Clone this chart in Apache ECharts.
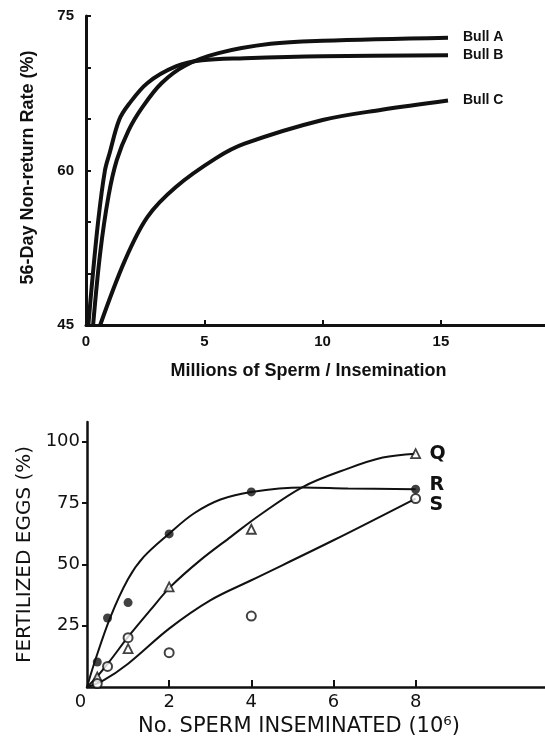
<!DOCTYPE html>
<html>
<head>
<meta charset="utf-8">
<script src="https://cdn.jsdelivr.net/npm/echarts@6/dist/echarts.min.js"></script>
<style>
  html,body{margin:0;padding:0;background:#fff;}
  #main{width:545px;height:740px;}
</style>
</head>
<body>
<div id="main"></div>
<script>
// top panel - 56 day non-return rate
const bullA = [[0.3,45],[0.6,52],[0.95,57.5],[1.3,61],[1.8,63.9],[2.4,66.2],[3.2,68.5],[4.2,70.2],[5.6,71.4],[7.8,72.3],[10,72.6],[15.3,72.9]];
const bullB = [[0.1,45],[0.24,48.7],[0.52,55.2],[0.8,60],[1.0,61.7],[1.4,64.9],[1.8,66.4],[2.6,68.5],[3.8,70.1],[4.9,70.7],[6.7,70.9],[10,71.1],[15.3,71.2]];
const bullC = [[0.6,45],[1.65,51.3],[2.6,55.5],[3.8,58.4],[5.5,61.2],[6.7,62.6],[10,64.9],[12.5,65.9],[15.3,66.8]];
const bullNames = ['Bull A','Bull B','Bull C'];
const topXLabels = [0,5,10,15];
const topXTicks = [5,10,15];
const topYLabels = [45,60,75];
const topYTicks = [50,55,60,65,70,75];

// bottom panel - fertilized eggs, fitted curves + observed points
const curveQ = [[0,0],[0.24,4.1],[0.57,10.9],[1.0,20.4],[1.54,31.3],[2.03,40.8],[2.76,51.7],[3.5,61.2],[4.2,70],[5.25,81.5],[6.35,89],[7.2,93.5],[8,95.1]];
const curveR = [[0,0],[0.2,10.9],[0.57,28.5],[1.0,44],[1.38,53],[2.0,62.5],[2.6,70.7],[3.25,76.4],[4.0,79.5],[5.25,81.3],[6.35,80.9],[8,80.6]];
const curveS = [[0,0],[0.4,2.7],[1.0,9.5],[2.0,23.8],[3.0,35.3],[4.0,43.5],[6.0,59.8],[8,76.8]];
const pointsQ = [[0.25,4.1],[1,15.6],[2,40.8],[4,64.3],[8,95.1]];
const pointsR = [[0.25,10.2],[0.5,28.1],[1,34.4],[2,62.4],[4,79.5],[8,80.6]];
const pointsS = [[0.25,1.4],[0.5,8.4],[1,20.1],[2,14],[4,28.9],[8,76.8]];
const groupNames = ['Q','R','S'];
const bottomXLabels = [0,2,4,6,8];
const bottomXTicks = [2,4,6,8];
const bottomYLabels = [25,50,75,100];

const ink = '#111';
const topFont = {fontFamily:'Liberation Sans', fontWeight:'bold', color:ink};
const botFont = {fontFamily:'DejaVu Sans', color:ink};

function bullLine(data, name){
  return {
    type:'line', xAxisIndex:0, yAxisIndex:0, data:data, smooth:0.35,
    showSymbol:false, silent:true, z:3,
    lineStyle:{color:ink, width:4},
    endLabel:Object.assign({show:true, formatter:name, distance:15, fontSize:14}, topFont)
  };
}
function eggCurve(data, name, offset){
  return {
    type:'line', xAxisIndex:1, yAxisIndex:1, data:data, smooth:0.35,
    showSymbol:false, silent:true, z:3,
    lineStyle:{color:ink, width:2},
    endLabel:{show:true, formatter:name, distance:14, offset:offset, fontSize:19, fontWeight:'bold', fontFamily:'DejaVu Sans', color:ink}
  };
}

let myChart = echarts.init(document.getElementById('main'));
myChart.setOption({
  backgroundColor:'#fff',
  animation:false,
  grid:[
    {left:86, top:16, width:459, height:309},
    {left:87, top:422, width:458, height:265}
  ],
  xAxis:[
    {
      gridIndex:0, type:'value', min:0, max:19.4,
      axisLine:{lineStyle:{color:ink, width:3}},
      axisTick:{inside:true, length:5, customValues:topXTicks, lineStyle:{color:ink, width:2}},
      axisLabel:Object.assign({customValues:topXLabels, margin:9, fontSize:15}, topFont),
      splitLine:{show:false},
      name:'Millions of Sperm / Insemination', nameLocation:'middle', nameGap:37,
      nameTextStyle:Object.assign({fontSize:18, padding:[0,14,0,0]}, topFont)
    },
    {
      gridIndex:1, type:'value', min:0, max:11.15,
      axisLine:{lineStyle:{color:ink, width:2.5}},
      axisTick:{inside:true, length:7, customValues:bottomXTicks, lineStyle:{color:ink, width:2}},
      axisLabel:Object.assign({
        customValues:bottomXLabels, margin:6, fontSize:18,
        formatter:function(v){ return v === 0 ? '{z|0}' : String(v); },
        rich:{z:{fontSize:18, fontFamily:'DejaVu Sans', color:ink, padding:[0,13,0,0]}}
      }, botFont),
      splitLine:{show:false},
      name:'No. SPERM INSEMINATED (10⁶)', nameLocation:'middle', nameGap:29,
      nameTextStyle:Object.assign({fontSize:21, padding:[0,34,0,0]}, botFont)
    }
  ],
  yAxis:[
    {
      gridIndex:0, type:'value', min:45, max:75,
      axisLine:{show:true, lineStyle:{color:ink, width:3}},
      axisTick:{show:true, inside:true, length:5, customValues:topYTicks, lineStyle:{color:ink, width:2}},
      axisLabel:Object.assign({customValues:topYLabels, margin:12, fontSize:15}, topFont),
      splitLine:{show:false},
      name:'56-Day Non-return Rate (%)', nameLocation:'middle', nameGap:49,
      nameTextStyle:Object.assign({fontSize:18, padding:[0,0,0,6]}, topFont)
    },
    {
      gridIndex:1, type:'value', min:0, max:108,
      axisLine:{show:true, lineStyle:{color:ink, width:2.5}},
      axisTick:{show:true, length:5, customValues:bottomYLabels, lineStyle:{color:ink, width:2}},
      axisLabel:Object.assign({customValues:bottomYLabels, margin:7, fontSize:18}, botFont),
      splitLine:{show:false},
      name:'FERTILIZED EGGS (%)', nameLocation:'middle', nameGap:48,
      nameTextStyle:Object.assign({fontSize:20}, botFont)
    }
  ],
  series:[
    bullLine(bullA, bullNames[0]),
    bullLine(bullB, bullNames[1]),
    bullLine(bullC, bullNames[2]),
    eggCurve(curveQ, groupNames[0], [0,0]),
    eggCurve(curveR, groupNames[1], [0,-4]),
    eggCurve(curveS, groupNames[2], [0,7]),
    {
      type:'scatter', xAxisIndex:1, yAxisIndex:1, data:pointsQ, z:5, silent:true,
      symbol:'triangle', symbolSize:9,
      itemStyle:{color:'#fff', borderColor:ink, borderWidth:1.8}
    },
    {
      type:'scatter', xAxisIndex:1, yAxisIndex:1, data:pointsR, z:5, silent:true,
      symbol:'circle', symbolSize:9,
      itemStyle:{color:ink}
    },
    {
      type:'scatter', xAxisIndex:1, yAxisIndex:1, data:pointsS, z:5, silent:true,
      symbol:'circle', symbolSize:9,
      itemStyle:{color:'#fff', borderColor:ink, borderWidth:2}
    }
  ]
});
</script>
</body>
</html>
